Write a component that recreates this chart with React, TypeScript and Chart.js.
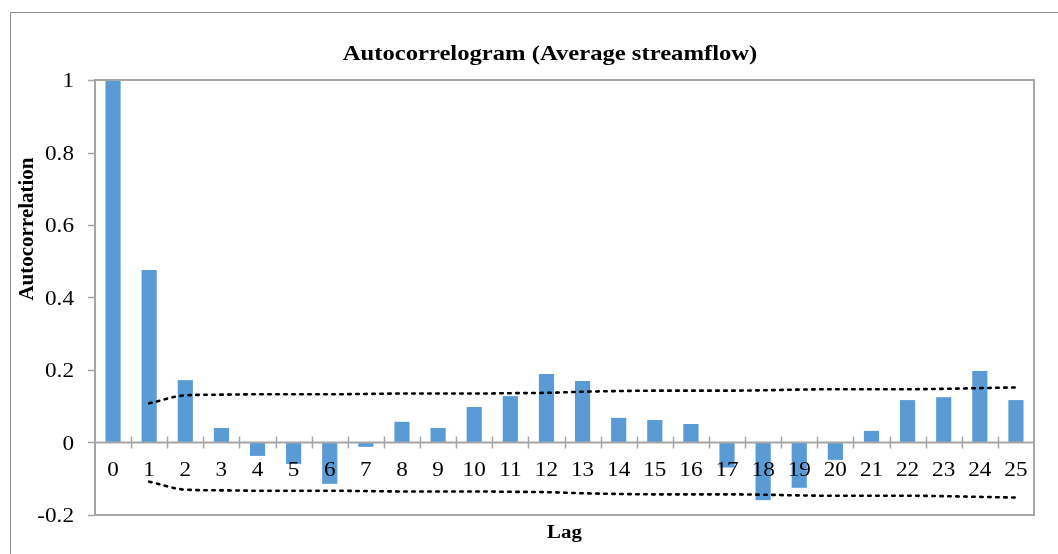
import React, { useEffect, useRef } from "react";
import { Chart, registerables } from "chart.js";

Chart.register(...registerables);

const lags: string[] = ["0","1","2","3","4","5","6","7","8","9","10","11","12","13","14","15","16","17","18","19","20","21","22","23","24","25"];
const autocorrelation: number[] = [1, 0.476, 0.172, 0.040, -0.037, -0.059, -0.114, -0.012, 0.057, 0.040, 0.098, 0.128, 0.189, 0.170, 0.068, 0.062, 0.051, -0.069, -0.159, -0.125, -0.048, 0.032, 0.117, 0.125, 0.197, 0.117];
const upperBound: (number | null)[] = [null, 0.108, 0.130, 0.132, 0.133, 0.133, 0.133, 0.134, 0.135, 0.135, 0.135, 0.136, 0.137, 0.140, 0.142, 0.143, 0.143, 0.143, 0.144, 0.146, 0.147, 0.147, 0.147, 0.148, 0.150, 0.152];
const lowerBound: (number | null)[] = [null, -0.108, -0.130, -0.132, -0.133, -0.133, -0.133, -0.134, -0.135, -0.135, -0.135, -0.136, -0.137, -0.140, -0.142, -0.143, -0.143, -0.143, -0.144, -0.146, -0.147, -0.147, -0.147, -0.148, -0.150, -0.152];
const yTickValues: number[] = [-0.2, 0, 0.2, 0.4, 0.6, 0.8, 1];

const chartTitle = "Autocorrelogram (Average streamflow)";
const xTitle = "Lag";
const yTitle = "Autocorrelation";

const SERIF = "'Liberation Serif', 'Times New Roman', serif";
const STRETCH = 1.16;

function fmt(v: number): string {
  return String(Number(v.toFixed(1)));
}

function stretchedText(ctx: CanvasRenderingContext2D, text: string, x: number, y: number, sx: number) {
  ctx.save();
  ctx.translate(x, y);
  ctx.scale(sx, 1);
  ctx.fillText(text, 0, 0);
  ctx.restore();
}

const decorPlugin = {
  id: "decor",
  beforeDraw(chart: any) {
    const ctx = chart.ctx;
    ctx.save();
    ctx.fillStyle = "#ffffff";
    ctx.fillRect(0, 0, chart.width, chart.height);
    ctx.strokeStyle = "#8c8c8c";
    ctx.lineWidth = 1;
    ctx.strokeRect(10.5, 12.5, 2000, 2000);
    ctx.restore();
  },
  afterDatasetsDraw(chart: any) {
    const ctx = chart.ctx;
    const ca = chart.chartArea;
    const x = chart.scales.x;
    const y = chart.scales.y;
    const y0 = y.getPixelForValue(0);
    ctx.save();
    ctx.strokeStyle = "#a6a6a6";
    ctx.lineWidth = 2;
    ctx.strokeRect(ca.left, ca.top, ca.right - ca.left, ca.bottom - ca.top);
    ctx.beginPath();
    ctx.moveTo(ca.left, y0);
    ctx.lineTo(ca.right, y0);
    ctx.stroke();
    ctx.lineWidth = 1.5;
    const n = lags.length;
    for (let i = 1; i < n; i++) {
      const px = Math.round((x.getPixelForValue(i - 1) + x.getPixelForValue(i)) / 2) + 0.5;
      ctx.beginPath();
      ctx.moveTo(px, y0 - 6);
      ctx.lineTo(px, y0 + 6);
      ctx.stroke();
    }
    for (const v of yTickValues) {
      const py = Math.round(y.getPixelForValue(v)) + 0.5;
      ctx.beginPath();
      ctx.moveTo(ca.left - 7, py);
      ctx.lineTo(ca.left, py);
      ctx.stroke();
    }
    ctx.fillStyle = "#000000";
    ctx.font = `20px ${SERIF}`;
    ctx.textBaseline = "alphabetic";
    ctx.textAlign = "center";
    lags.forEach((lab, i) => {
      stretchedText(ctx, lab, x.getPixelForValue(i), y0 + 33, STRETCH);
    });
    ctx.textAlign = "right";
    for (const v of yTickValues) {
      stretchedText(ctx, fmt(v), ca.left - 21, y.getPixelForValue(v) + 7, STRETCH);
    }
    ctx.restore();
  },
  afterDraw(chart: any) {
    const ctx = chart.ctx;
    const ca = chart.chartArea;
    ctx.save();
    ctx.fillStyle = "#000000";
    ctx.textAlign = "center";
    ctx.textBaseline = "alphabetic";
    ctx.font = `bold 22px ${SERIF}`;
    stretchedText(ctx, chartTitle, 550, 60, 1.12);
    ctx.font = `bold 18px ${SERIF}`;
    stretchedText(ctx, xTitle, (ca.left + ca.right) / 2, 538, STRETCH);
    ctx.textBaseline = "middle";
    ctx.font = `bold 21px ${SERIF}`;
    ctx.translate(28, 229);
    ctx.rotate(-Math.PI / 2);
    ctx.fillText(yTitle, 0, 0);
    ctx.restore();
  },
};

export default function App() {
  const ref = useRef<HTMLCanvasElement | null>(null);
  useEffect(() => {
    if (!ref.current) return;
    const lineStyle = {
      type: "line",
      borderColor: "#000000",
      borderWidth: 2.6,
      borderDash: [2.5, 5.5],
      borderCapStyle: "round",
      pointRadius: 0,
      cubicInterpolationMode: "monotone",
      fill: false,
      order: 1,
    };
    const chart = new Chart(ref.current, {
      type: "bar",
      data: {
        labels: lags,
        datasets: [
          {
            type: "bar",
            label: "Autocorrelation",
            data: autocorrelation,
            backgroundColor: "#5b9bd5",
            borderWidth: 0,
            categoryPercentage: 1,
            barPercentage: 0.42,
            order: 2,
          } as any,
          { ...lineStyle, label: "Upper bound", data: upperBound } as any,
          { ...lineStyle, label: "Lower bound", data: lowerBound } as any,
        ],
      },
      options: {
        responsive: false,
        animation: false,
        layout: { padding: { top: 80, left: 0, right: 24, bottom: 39 } },
        plugins: {
          legend: { display: false },
          title: { display: false },
          tooltip: { enabled: false },
        },
        scales: {
          x: {
            position: { y: 0 } as any,
            offset: true,
            grid: { display: false, drawTicks: false },
            border: { display: false },
            ticks: { display: false, autoSkip: false },
          },
          y: {
            min: -0.2,
            max: 1,
            afterFit: (s: any) => {
              s.width = 95;
            },
            grid: { display: false, drawTicks: false },
            border: { display: false },
            ticks: { display: false, stepSize: 0.2 },
          },
        },
      },
      plugins: [decorPlugin],
    });
    return () => chart.destroy();
  }, []);
  return (
    <div style={{ position: "fixed", left: 0, top: 0, width: 1058, height: 554, background: "#fff" }}>
      <canvas ref={ref} width={1058} height={554} style={{ display: "block" }} />
    </div>
  );
}
